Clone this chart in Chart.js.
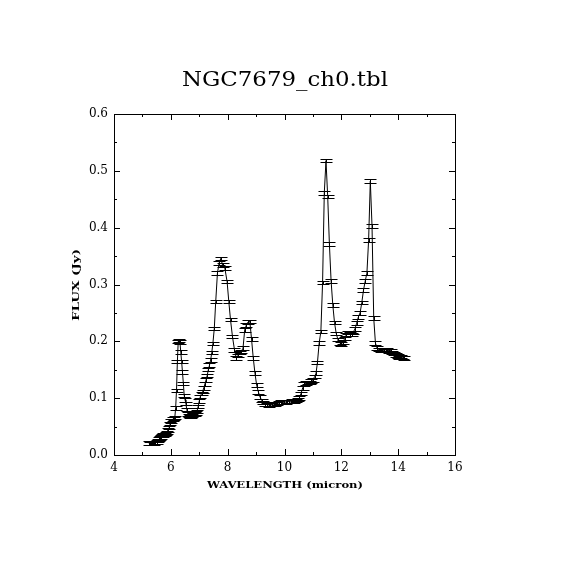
<!DOCTYPE html>
<html>
<head>
<meta charset="utf-8">
<script src="https://cdn.jsdelivr.net/npm/chart.js@4.4.0/dist/chart.umd.min.js"></script>
<style>
  body { margin: 0; background: #fff; }
  canvas { display: block; }
</style>
</head>
<body>
<canvas id="spec" width="570" height="570"></canvas>
<script>
// spectrum (micron, Jy)
const WAVE = [
  5.22, 5.26, 5.30, 5.34, 5.38, 5.42, 5.46, 5.50, 5.54, 5.58, 5.62, 5.66, 5.70, 5.74, 5.78, 5.82,
  5.86, 5.90, 5.94, 5.98, 6.02, 6.06, 6.10, 6.14, 6.17, 6.20, 6.23, 6.26, 6.29, 6.32, 6.35, 6.38,
  6.41, 6.44, 6.47, 6.50, 6.53, 6.56, 6.60, 6.64, 6.68, 6.72, 6.76, 6.80, 6.84, 6.88, 6.92, 6.96,
  7.00, 7.04, 7.08, 7.12, 7.16, 7.20, 7.24, 7.28, 7.32, 7.36, 7.40, 7.44, 7.48, 7.53, 7.58, 7.64,
  7.70, 7.76, 7.82, 7.90, 7.98, 8.04, 8.10, 8.17, 8.24, 8.30, 8.36, 8.42, 8.48, 8.54, 8.60, 8.66,
  8.72, 8.78, 8.84, 8.90, 8.96, 9.02, 9.08, 9.14, 9.20, 9.26, 9.32, 9.38, 9.44, 9.50, 9.56, 9.62,
  9.68, 9.74, 9.80, 9.86, 9.92, 9.98, 10.04, 10.10, 10.16, 10.22, 10.28, 10.34, 10.40, 10.46, 10.52, 10.58,
  10.64, 10.70, 10.76, 10.82, 10.88, 10.94, 11.00, 11.06, 11.11, 11.16, 11.22, 11.28, 11.34, 11.40, 11.46, 11.52,
  11.58, 11.64, 11.70, 11.76, 11.82, 11.88, 11.94, 12.00, 12.06, 12.12, 12.18, 12.24, 12.30, 12.36, 12.42, 12.48,
  12.54, 12.60, 12.66, 12.72, 12.78, 12.84, 12.90, 12.96, 13.02, 13.08, 13.14, 13.20, 13.26, 13.32, 13.38, 13.44,
  13.50, 13.56, 13.62, 13.68, 13.74, 13.80, 13.86, 13.92, 13.98, 14.04, 14.10, 14.16, 14.22
];
const FLUX = [
  0.021, 0.020, 0.021, 0.020, 0.021, 0.020, 0.022, 0.023, 0.025, 0.028, 0.030, 0.032, 0.034, 0.035, 0.036, 0.038,
  0.040, 0.044, 0.048, 0.055, 0.060, 0.063, 0.064, 0.066, 0.083, 0.114, 0.164, 0.200, 0.201, 0.199, 0.181, 0.164,
  0.146, 0.126, 0.105, 0.097, 0.091, 0.080, 0.072, 0.069, 0.068, 0.068, 0.070, 0.071, 0.072, 0.074, 0.077, 0.085,
  0.095, 0.103, 0.108, 0.112, 0.118, 0.125, 0.132, 0.140, 0.150, 0.158, 0.167, 0.180, 0.196, 0.223, 0.270, 0.320,
  0.338, 0.346, 0.334, 0.329, 0.305, 0.270, 0.238, 0.208, 0.185, 0.171, 0.175, 0.180, 0.182, 0.188, 0.220, 0.229,
  0.234, 0.235, 0.204, 0.171, 0.144, 0.123, 0.111, 0.102, 0.096, 0.092, 0.090, 0.089, 0.088, 0.089, 0.089, 0.090,
  0.090, 0.091, 0.092, 0.093, 0.093, 0.093, 0.093, 0.094, 0.094, 0.094, 0.095, 0.095, 0.096, 0.098, 0.100, 0.108,
  0.118, 0.125, 0.127, 0.128, 0.128, 0.130, 0.132, 0.138, 0.144, 0.163, 0.197, 0.217, 0.304, 0.461, 0.518, 0.455,
  0.371, 0.306, 0.264, 0.233, 0.214, 0.203, 0.197, 0.195, 0.199, 0.205, 0.212, 0.216, 0.213, 0.212, 0.216, 0.222,
  0.232, 0.243, 0.250, 0.268, 0.290, 0.306, 0.320, 0.378, 0.482, 0.403, 0.241, 0.197, 0.188, 0.186, 0.185, 0.186,
  0.184, 0.185, 0.185, 0.183, 0.184, 0.180, 0.179, 0.176, 0.174, 0.172, 0.173, 0.172, 0.171
];
const FLUX_ERR = 0.003;

const TITLE = 'NGC7679_ch0.tbl';
const X_TITLE = 'WAVELENGTH (micron)';
const Y_TITLE = 'FLUX (Jy)';

const X_MIN = 4, X_MAX = 16, X_STEP = 2;
const Y_MIN = 0, Y_MAX = 0.6, Y_STEP = 0.1;

const SERIF = '"DejaVu Serif", "Liberation Serif", serif';

// text squeezed/stretched to the width it has in the original plot
function drawText(ctx, text, cx, cy, font, width, rot) {
  ctx.save();
  ctx.font = font;
  ctx.fillStyle = '#000';
  ctx.textAlign = 'center';
  ctx.textBaseline = 'middle';
  ctx.translate(cx, cy);
  if (rot) ctx.rotate(rot);
  const w = ctx.measureText(text).width;
  ctx.scale(width / w, 1);
  ctx.fillText(text, 0, 0);
  ctx.restore();
}

// vertical error bars with caps
const errorBars = {
  id: 'errorBars',
  afterDatasetsDraw(chart) {
    const ctx = chart.ctx;
    const xs = chart.scales.x, ys = chart.scales.y;
    ctx.save();
    ctx.strokeStyle = '#000';
    ctx.lineWidth = 1;
    ctx.beginPath();
    for (let i = 0; i < WAVE.length; i++) {
      const x = Math.round(xs.getPixelForValue(WAVE[i])) + 0.5;
      const y1 = Math.round(ys.getPixelForValue(FLUX[i] + FLUX_ERR)) + 0.5;
      const y2 = Math.round(ys.getPixelForValue(FLUX[i] - FLUX_ERR)) + 0.5;
      ctx.moveTo(x, y1); ctx.lineTo(x, y2);
      ctx.moveTo(x - 6, y1); ctx.lineTo(x + 6, y1);
      ctx.moveTo(x - 6, y2); ctx.lineTo(x + 6, y2);
    }
    ctx.stroke();
    ctx.restore();
  }
};

// box, inward ticks on all sides, titles
const frame = {
  id: 'frame',
  afterDraw(chart) {
    const ctx = chart.ctx;
    const a = chart.chartArea;
    const xs = chart.scales.x, ys = chart.scales.y;
    ctx.save();
    ctx.strokeStyle = '#000';
    ctx.lineWidth = 1;
    ctx.strokeRect(Math.round(a.left) + 0.5, Math.round(a.top) + 0.5,
      Math.round(a.right - a.left), Math.round(a.bottom - a.top));
    ctx.beginPath();
    for (let v = X_MIN; v <= X_MAX + 1e-9; v += X_STEP / 2) {
      const len = (Math.round(v / (X_STEP / 2)) % 2 === 0) ? 6 : 3;
      const x = Math.round(xs.getPixelForValue(v)) + 0.5;
      ctx.moveTo(x, a.bottom); ctx.lineTo(x, a.bottom - len);
      ctx.moveTo(x, a.top); ctx.lineTo(x, a.top + len);
    }
    for (let v = Y_MIN; v <= Y_MAX + 1e-9; v += Y_STEP / 2) {
      const len = (Math.round(v / (Y_STEP / 2)) % 2 === 0) ? 6 : 3;
      const y = Math.round(ys.getPixelForValue(v)) + 0.5;
      ctx.moveTo(a.left, y); ctx.lineTo(a.left + len, y);
      ctx.moveTo(a.right, y); ctx.lineTo(a.right - len, y);
    }
    ctx.stroke();
    ctx.restore();

    drawText(ctx, TITLE, 285, 81, '20px ' + SERIF, 206);
    drawText(ctx, X_TITLE, 285, 485, 'bold 10px ' + SERIF, 156);
    drawText(ctx, Y_TITLE, 76, 285, 'bold 10px ' + SERIF, 72, -Math.PI / 2);
  }
};

const points = WAVE.map((w, i) => ({ x: w, y: FLUX[i] }));

new Chart(document.getElementById('spec'), {
  type: 'line',
  data: {
    datasets: [{
      data: points,
      borderColor: '#000',
      borderWidth: 1,
      pointRadius: 0,
      tension: 0,
      fill: false
    }]
  },
  options: {
    responsive: false,
    animation: false,
    devicePixelRatio: 1,
    layout: { padding: { top: 114, right: 115, bottom: 0, left: 0 } },
    plugins: {
      legend: { display: false },
      title: { display: false },
      tooltip: { enabled: false }
    },
    scales: {
      x: {
        type: 'linear',
        min: X_MIN,
        max: X_MAX,
        grid: { display: false, drawTicks: false },
        border: { display: false },
        ticks: {
          stepSize: X_STEP,
          padding: 6,
          maxRotation: 0,
          autoSkip: false,
          color: '#000',
          font: { family: SERIF, size: 12 }
        },
        afterFit(s) { s.height = 115; }
      },
      y: {
        type: 'linear',
        min: Y_MIN,
        max: Y_MAX,
        grid: { display: false, drawTicks: false },
        border: { display: false },
        ticks: {
          stepSize: Y_STEP,
          padding: 6,
          color: '#000',
          font: { family: SERIF, size: 12 },
          callback: v => v.toFixed(1)
        },
        afterFit(s) { s.width = 114; }
      }
    }
  },
  plugins: [errorBars, frame]
});
</script>
</body>
</html>
